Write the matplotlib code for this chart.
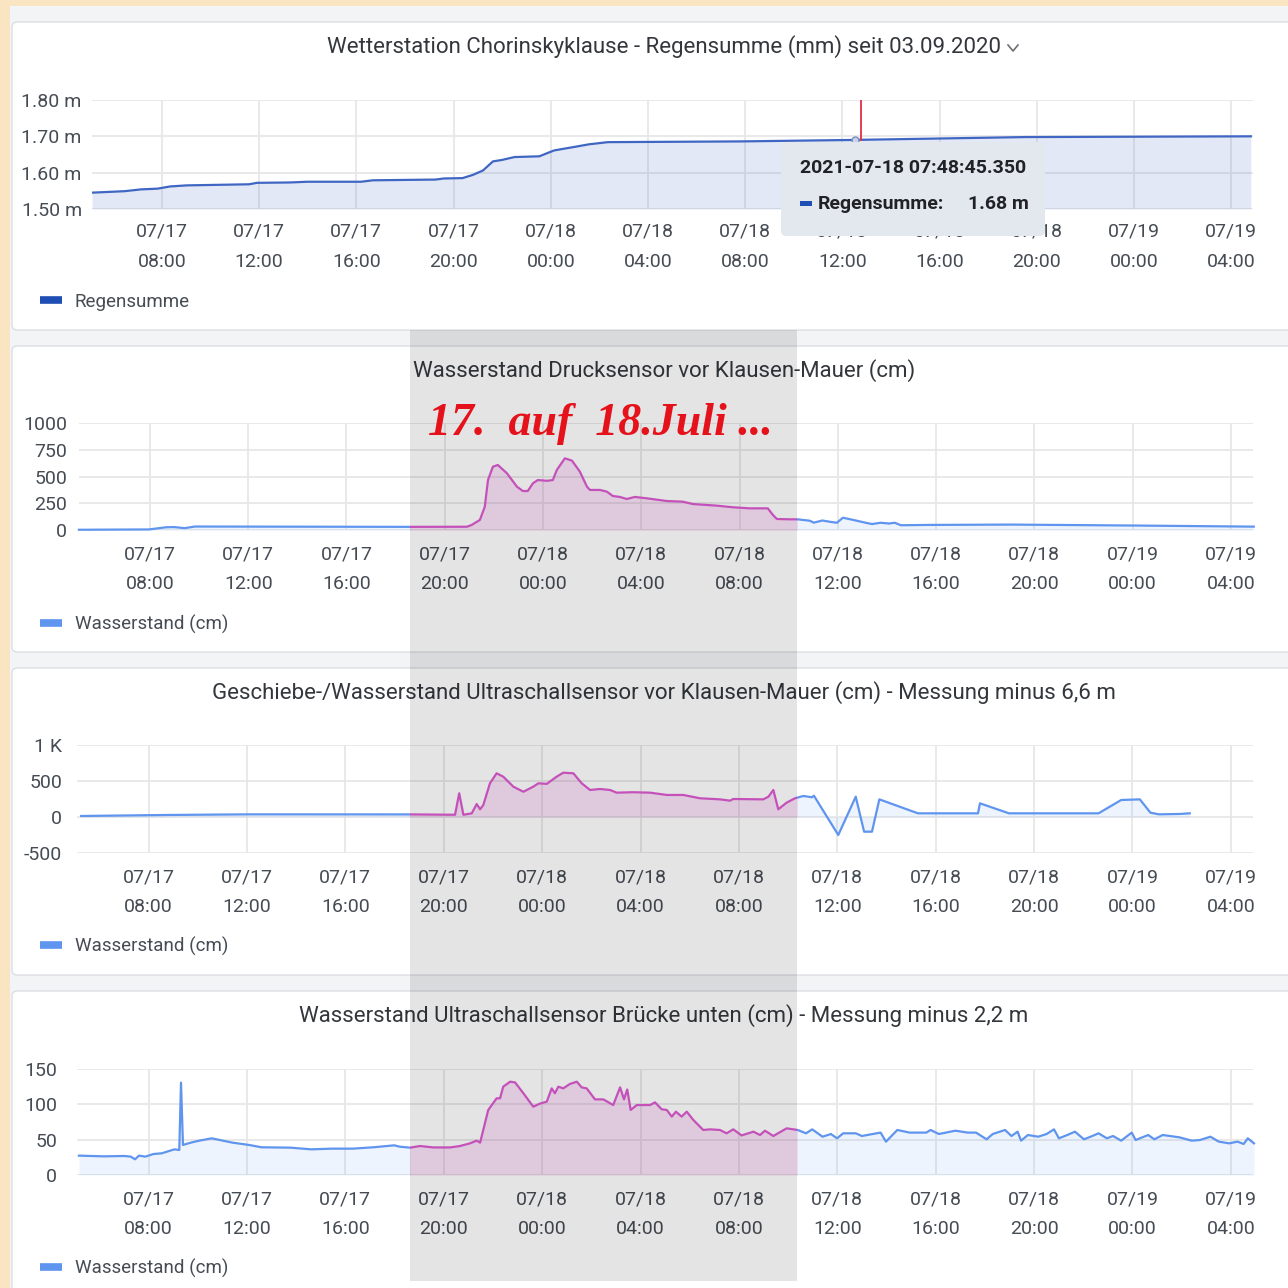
import datetime as dt

import numpy as np
import matplotlib
matplotlib.use('Agg')
import matplotlib.pyplot as plt
from matplotlib.patches import Rectangle, FancyBboxPatch
from matplotlib.lines import Line2D

W = H = 1288
DPI = 100
FONT = ['Liberation Sans Narrow', 'Roboto', 'DejaVu Sans']
BASE = dt.datetime(2021, 7, 17, 0, 0)

# all times are hours after 2021-07-17 00:00
RAIN_H = [5.12, 6.46, 7.14, 7.82, 8.33, 9.02, 11.58, 11.91, 13.27, 13.97, 16.19, 16.68,
          19.26, 19.60, 20.37, 20.80, 21.21, 21.62, 21.99, 22.51, 23.53, 24.13, 24.46,
          24.90, 25.57, 26.35, 31.79, 36.38, 43.56, 52.81]
RAIN_M = [1.545, 1.549, 1.554, 1.556, 1.562, 1.565, 1.568, 1.572, 1.573, 1.575, 1.575, 1.579,
          1.581, 1.584, 1.585, 1.594, 1.606, 1.631, 1.635, 1.643, 1.645, 1.661, 1.665,
          1.670, 1.678, 1.684, 1.686, 1.690, 1.698, 1.700]

DRUCK_H = [5.11, 7.96, 8.65, 8.98, 9.41, 9.83, 18.62, 20.90, 21.09, 21.43, 21.63, 21.76,
           21.96, 22.16, 22.53, 22.94, 23.18, 23.38, 23.59, 23.79, 24.16, 24.40, 24.56,
           24.89, 25.18, 25.50, 25.79, 25.91, 26.32, 26.60, 26.84, 27.13, 27.41, 27.74,
           28.23, 29.04, 29.69, 30.10, 31.08, 31.73, 32.42, 33.15, 33.36, 33.52, 34.05,
           34.36, 34.86, 35.02, 35.37, 35.71, 35.96, 36.21, 36.73, 37.14, 37.39, 37.74,
           38.08, 38.32, 38.57, 39.75, 43.12, 48.21, 52.93]
DRUCK_CM = [5, 8, 28, 30, 20, 35, 32, 33, 49, 96, 219, 467,
            591, 607, 530, 405, 365, 365, 437, 467, 460, 467, 560,
            669, 647, 545, 405, 375, 375, 359, 319, 310, 291, 310,
            297, 272, 266, 244, 229, 214, 204, 204, 142, 105, 102,
            102, 89, 71, 91, 78, 70, 117, 91, 70, 58, 70,
            63, 70, 47, 50, 53, 44, 34]

SCHALL_H = [5.26, 8.71, 12.09, 18.67, 20.46, 20.63, 20.80, 21.14, 21.34, 21.48, 21.61,
            21.88, 22.15, 22.42, 22.83, 23.24, 23.64, 23.85, 24.19, 24.59, 24.86, 25.27,
            25.61, 25.95, 26.35, 26.76, 27.03, 27.71, 28.39, 29.07, 29.74, 30.42, 31.23,
            31.64, 31.77, 32.99, 33.20, 33.40, 33.60, 33.94, 34.28, 34.62, 34.97, 35.05,
            36.04, 36.75, 37.09, 37.41, 37.71, 39.28, 41.72, 41.80, 42.98, 46.62, 47.54,
            48.30, 48.73, 49.07, 49.91, 50.33]
SCHALL_CM = [14, 28, 37, 36, 31, 329, 31, 51, 180, 107, 167,
             468, 607, 560, 421, 351, 421, 468, 460, 560, 615, 607,
             468, 375, 389, 375, 338, 344, 338, 306, 306, 260, 245,
             227, 250, 245, 282, 375, 107, 199, 260, 292, 274, 296,
             -250, 282, -204, -204, 245, 51, 51, 190, 51, 51, 236,
             245, 60, 37, 42, 51]

BRUECKE_H = [5.17, 6.18, 7.02, 7.28, 7.45, 7.61, 7.87, 8.20, 8.54, 9.05, 9.25, 9.32, 9.40,
             9.72, 10.06, 10.57, 10.90, 11.41, 12.09, 12.59, 13.77, 14.61, 15.46, 16.30,
             17.14, 17.99, 18.22, 18.63, 19.04, 19.58, 20.26, 20.66, 21.07, 21.34, 21.48,
             21.81, 22.15, 22.29, 22.42, 22.70, 22.90, 23.24, 23.64, 23.91, 24.19, 24.39,
             24.52, 24.66, 24.86, 25.13, 25.41, 25.61, 25.81, 26.15, 26.49, 26.89, 27.17,
             27.33, 27.46, 27.60, 27.85, 28.39, 28.59, 28.86, 29.07, 29.27, 29.44, 29.67,
             29.88, 30.15, 30.55, 30.83, 31.23, 31.50, 31.77, 32.11, 32.59, 32.86, 33.06,
             33.40, 33.94, 34.39, 34.73, 34.98, 35.40, 35.74, 35.99, 36.24, 36.75, 37.00,
             37.76, 37.98, 38.44, 38.94, 39.62, 39.79, 40.13, 40.80, 41.30, 41.64, 42.07,
             42.32, 42.82, 43.08, 43.33, 43.47, 43.75, 44.17, 44.51, 44.81, 45.01, 45.35,
             45.66, 46.03, 46.37, 46.62, 46.96, 47.21, 47.54, 47.97, 48.13, 48.64, 48.89,
             49.23, 49.91, 50.41, 50.74, 51.17, 51.51, 51.93, 52.27, 52.52, 52.69, 52.94]
BRUECKE_CM = [27.4, 26.4, 26.9, 26, 22.2, 27.4, 26, 29.7, 30.7, 36.3, 35.4, 130.7, 42.5,
              45.8, 48.6, 51.9, 49.5, 45.8, 42.5, 39.2, 38.7, 36.3, 37.3, 37.3,
              39.2, 42, 40, 38.7, 41, 39, 39, 41, 44.8, 48.6, 45.8,
              92, 108.5, 108.5, 125, 132, 131, 115.6, 96.7, 101, 103.8, 122.6,
              115.6, 125, 122.6, 128.8, 132, 124, 122.6, 107, 107, 99, 124,
              107, 121, 92, 99, 99, 102.8, 93, 92, 82.6, 89.6, 82.6,
              89.6, 77.8, 63.7, 64.6, 63.7, 59, 64.6, 56, 61.3, 56.6, 62.7,
              55.2, 66, 63.7, 59, 64.6, 54.2, 58, 51.9, 59, 59, 55.2,
              60, 47.2, 63.7, 60, 60, 63.7, 58, 62.7, 60, 60, 50.5,
              58, 63.7, 55.2, 61.3, 48.6, 56.6, 54.2, 58, 64.6, 51.9, 56.6,
              61.3, 50.5, 55.2, 59, 51.9, 55.2, 48.6, 60, 49.5, 56.6, 50.5,
              56.6, 53.3, 48.6, 49.5, 54.2, 47.2, 44.8, 47.2, 43.9, 51.9, 44.8]

XTICKS_H = [8, 12, 16, 20, 24, 28, 32, 36, 40, 44, 48, 52]
XLIM_H = (5.1, 52.9)

TITLES = ['Wetterstation Chorinskyklause - Regensumme (mm) seit 03.09.2020',
          'Wasserstand Drucksensor vor Klausen-Mauer (cm)',
          'Geschiebe-/Wasserstand Ultraschallsensor vor Klausen-Mauer (cm) - Messung minus 6,6 m',
          'Wasserstand Ultraschallsensor Brücke unten (cm) - Messung minus 2,2 m']

BLUE = '#5f95ee'
DARK_BLUE = '#4066c4'
PINK = '#dc5bd0'
TXT = '#464c54'
TICK_SIZE = 14
TITLE_SIZE = 16


def fx(x):
    return x / W


def fy(y):
    return 1 - y / H


fig = plt.figure(figsize=(W / DPI, H / DPI), dpi=DPI, facecolor='#fae5c3')

# grey page and the white panels
fig.patches.append(Rectangle((fx(10), 0), 1, fy(6), transform=fig.transFigure,
                             fc='#f3f4f5', ec='none', zorder=-10))
panel_rows = [(22, 330), (346, 652), (668, 975), (991, 1300)]
for top, bot in panel_rows:
    fig.patches.append(FancyBboxPatch((fx(12), fy(bot)), fx(1300 - 12), (bot - top) / H,
                                      boxstyle='round,pad=0,rounding_size=0.004',
                                      transform=fig.transFigure, fc='white',
                                      ec='#dcdee2', lw=1.0, zorder=-9))


def fig_strip(x0, x1):
    return Rectangle((fx(x0), 0), (x1 - x0) / W, 1, transform=fig.transFigure)


def add_axes_px(left, top, right, bottom):
    ax = fig.add_axes([fx(left), fy(bottom), (right - left) / W, (bottom - top) / H])
    ax.set_facecolor('none')
    return ax


def style_axes(ax, yticks, ylabels, ypad, xpad=11):
    ax.set_xlim(*XLIM_H)
    ax.set_ylim(yticks[0], yticks[-1])
    xlabels = [(BASE + dt.timedelta(hours=h)).strftime('%m/%d\n%H:%M') for h in XTICKS_H]
    ax.set_xticks(XTICKS_H, xlabels)
    ax.set_yticks(yticks, ylabels)
    ax.tick_params(length=0, colors=TXT, labelsize=TICK_SIZE)
    ax.tick_params(axis='x', pad=xpad)
    ax.tick_params(axis='y', pad=ypad)
    for tick in ax.xaxis.get_major_ticks():
        tick.label1.set_linespacing(1.85)
        tick.label1.set_family(FONT)
    for tick in ax.yaxis.get_major_ticks():
        tick.label1.set_family(FONT)
    for s in ax.spines.values():
        s.set_visible(False)
    ax.grid(True, color='#e7e7e7', lw=1.3)
    ax.set_axisbelow(True)


def draw_series(ax, h, v):
    parts = [(0, 410, BLUE, 0.10), (410, 797, PINK, 0.17), (797, W, BLUE, 0.10)]
    for x0, x1, col, a in parts:
        clip = fig_strip(x0, x1)
        f = ax.fill_between(h, v, 0, color=col, alpha=a, lw=0)
        f.set_clip_path(clip)
        ln, = ax.plot(h, v, color=col, lw=1.6)
        ln.set_clip_path(clip)


def add_legend(ax, y, color, label):
    ax.legend(handles=[Line2D([], [], color=color, lw=5.5, solid_capstyle='butt')],
              labels=[label], loc='center left', bbox_to_anchor=(fx(40), fy(y)),
              bbox_transform=fig.transFigure, frameon=False, borderpad=0,
              borderaxespad=0, handlelength=1.15, handletextpad=0.7,
              prop={'family': FONT, 'size': 13.5}, labelcolor=TXT)


def add_title(y, text):
    fig.text(fx(664), fy(y), text, ha='center', va='center', fontsize=TITLE_SIZE,
             color='#33373c', family=FONT)


# panel 1: Regensumme
ax1 = add_axes_px(91.5, 100, 1253, 209)
ax1.fill_between(RAIN_H, RAIN_M, 1.5, color=DARK_BLUE, alpha=0.15, lw=0)
ax1.plot(RAIN_H, RAIN_M, color=DARK_BLUE, lw=1.6)
ax1.plot([36.77, 36.77], [1.69, 1.80], color='#e02f44', lw=1.3)
ax1.plot([36.52], [1.689], marker='o', ms=5, mfc='#c9d2e6', mec='#7b8fbf', mew=1)
style_axes(ax1, [1.5, 1.6, 1.7, 1.8], ['1.50 m', '1.60 m', '1.70 m', '1.80 m'], 7, xpad=10)
add_legend(ax1, 302, '#1f4fb4', 'Regensumme')
add_title(47, TITLES[0])
fig.lines.append(Line2D([fx(1008), fx(1013), fx(1018)], [fy(45), fy(51), fy(45)],
                        transform=fig.transFigure, color='#6b6f75', lw=1.2))

# panel 2: Drucksensor
ax2 = add_axes_px(78.7, 422.7, 1253, 530.3)
draw_series(ax2, DRUCK_H, DRUCK_CM)
style_axes(ax2, [0, 250, 500, 750, 1000], ['0', '250', '500', '750', '1000'], 8.4)
add_legend(ax2, 624, BLUE, 'Wasserstand (cm)')
add_title(371, TITLES[1])

# panel 3: Ultraschall Klause
ax3 = add_axes_px(77.2, 745, 1253, 853)
draw_series(ax3, SCHALL_H, SCHALL_CM)
style_axes(ax3, [-500, 0, 500, 1000], ['-500', '0', '500', '1 K'], 10.9)
add_legend(ax3, 946, BLUE, 'Wasserstand (cm)')
add_title(693, TITLES[2])

# panel 4: Ultraschall Bruecke
ax4 = add_axes_px(77.2, 1069, 1253, 1175)
draw_series(ax4, BRUECKE_H, BRUECKE_CM)
style_axes(ax4, [0, 50, 100, 150], ['0', '50', '100', '150'], 14.5)
add_legend(ax4, 1268, BLUE, 'Wasserstand (cm)')
add_title(1016, TITLES[3])

# grey highlight over the night 17./18. July
fig.patches.append(Rectangle((fx(410), fy(1281)), (797 - 410) / W, (1281 - 330) / H,
                             transform=fig.transFigure, fc='black', alpha=0.105,
                             ec='none', zorder=4))
fig.text(fx(428), fy(435), '17.  auf  18.Juli ...', family='Liberation Serif',
         style='italic', weight='bold', fontsize=33, color='#e5121c',
         ha='left', va='baseline', zorder=6)

# hover tooltip
fig.patches.append(FancyBboxPatch((fx(781), fy(236)), (1045 - 781) / W, (236 - 142) / H,
                                  boxstyle='round,pad=0,rounding_size=0.004',
                                  transform=fig.transFigure, fc='#e3e8ef', ec='none',
                                  zorder=5))
fig.text(fx(913), fy(168), '2021-07-18 07:48:45.350', ha='center', va='center',
         fontsize=14, weight='bold', color='#202226', family=FONT, zorder=6)
fig.patches.append(Rectangle((fx(800), fy(206)), 12 / W, 5 / H, transform=fig.transFigure,
                             fc='#1f4fb4', ec='none', zorder=6))
fig.text(fx(818), fy(204), 'Regensumme:', ha='left', va='center', fontsize=14,
         weight='bold', color='#202226', family=FONT, zorder=6)
fig.text(fx(1029), fy(204), '1.68 m', ha='right', va='center', fontsize=14,
         weight='bold', color='#202226', family=FONT, zorder=6)

fig.savefig('out.png', dpi=DPI, facecolor=fig.get_facecolor())
